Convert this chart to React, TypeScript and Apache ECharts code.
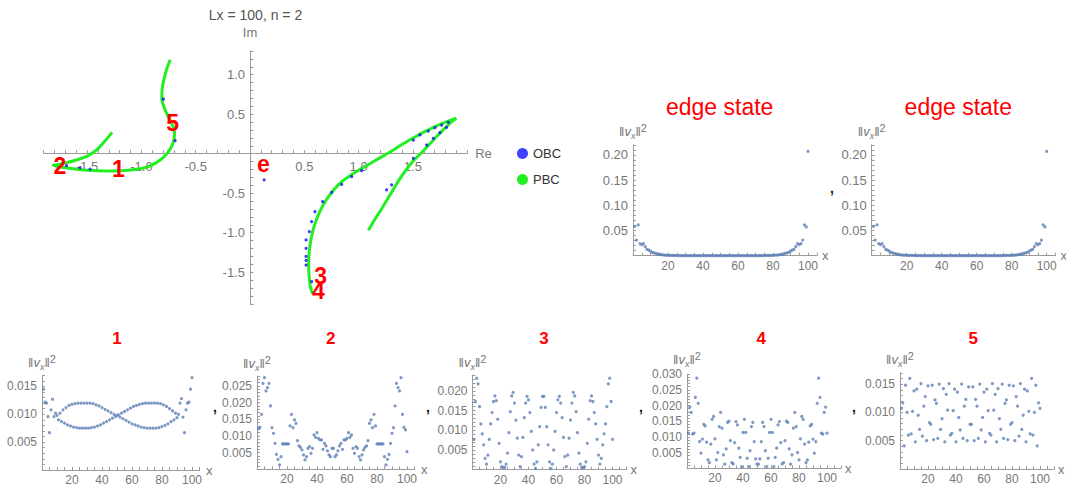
import React, { useEffect, useRef } from 'react';
import * as echarts from 'echarts';

// ---------- texts ----------
const mainTitle = 'Lx = 100, n = 2';
const edgeTitle = 'edge state';
const stateTitles = ['1', '2', '3', '4', '5'];
const legendNames = ['OBC', 'PBC'];

// ---------- complex spectrum (Re, Im) ----------
const pbcLeftRe = [-1.27, -1.33, -1.41, -1.5, -1.6, -1.69, -1.76, -1.815, -1.76, -1.66, -1.55, -1.44, -1.32, -1.2, -1.1, -1.01, -0.93, -0.86, -0.8, -0.755, -0.72, -0.7, -0.695, -0.705, -0.73, -0.765, -0.795, -0.812, -0.81, -0.8, -0.785, -0.77, -0.752, -0.735];
const pbcLeftIm = [0.27, 0.17, 0.05, -0.03, -0.08, -0.115, -0.135, -0.145, -0.165, -0.185, -0.203, -0.213, -0.218, -0.215, -0.205, -0.19, -0.16, -0.11, -0.05, 0.02, 0.1, 0.18, 0.26, 0.33, 0.41, 0.5, 0.6, 0.7, 0.8, 0.9, 0.98, 1.06, 1.13, 1.19];
const pbcRightRe = [1.09, 1.15, 1.22, 1.29, 1.36, 1.44, 1.51, 1.57, 1.64, 1.72, 1.8, 1.86, 1.9, 1.83, 1.73, 1.61, 1.49, 1.39, 1.3, 1.2, 1.1, 1.0, 0.92, 0.84, 0.77, 0.7, 0.64, 0.595, 0.563, 0.545, 0.54, 0.545, 0.555, 0.575];
const pbcRightIm = [-0.97, -0.83, -0.68, -0.52, -0.36, -0.2, -0.08, 0.0, 0.1, 0.22, 0.33, 0.41, 0.45, 0.415, 0.36, 0.28, 0.19, 0.11, 0.03, -0.05, -0.13, -0.21, -0.28, -0.36, -0.46, -0.59, -0.74, -0.9, -1.07, -1.25, -1.42, -1.56, -1.68, -1.77];
const obcRe = [-1.69, -1.565, -1.473, -0.798, -0.69, 0.13, 0.516, 0.516, 0.516, 0.516, 0.516, 0.546, 0.567, 0.598, 0.669, 0.752, 0.844, 0.936, 1.028, 1.504, 1.565, 1.642, 1.703, 1.765, 1.826, 1.258, 1.304, 1.504, 1.627, 1.688, 1.749, 1.81, 0.568];
const obcIm = [-0.152, -0.177, -0.194, 0.69, 0.165, -0.33, -1.092, -1.198, -1.3, -1.35, -1.41, -0.987, -0.86, -0.734, -0.607, -0.489, -0.388, -0.291, -0.215, 0.173, 0.237, 0.287, 0.33, 0.363, 0.397, -0.459, -0.395, -0.058, 0.11, 0.194, 0.266, 0.333, -1.62];
const markNames = ['2', '1', '5', 'e', '3', '4'];
const markRe = [-1.75, -1.213, -0.712, 0.123, 0.651, 0.629];
const markIm = [-0.152, -0.194, 0.385, -0.134, -1.548, -1.734];

// ---------- |v_x|^2 profiles, x = 1..100 ----------
const edgeState = [
  0.058, 0.031, 0.061, 0.024, 0.022, 0.024, 0.018, 0.0125, 0.011, 0.009,
  0.0066, 0.0055, 0.0046, 0.0035, 0.0026, 0.002, 0.0015, 0.0012, 0.001, 0.0008,
  0.0007, 0.0006, 0.0005, 0.0004, 0.0003, 0.0003, 0.0002, 0.0002, 0.0002, 0.0001,
  0.0001, 0.0001, 0.0001, 0.0001, 0.0001, 0.0001, 0.0001, 0.0001, 0.0001, 0.0001,
  0.0001, 0.0001, 0.0001, 0.0001, 0.0001, 0.0001, 0.0001, 0.0001, 0.0001, 0.0001,
  0.0001, 0.0001, 0.0001, 0.0001, 0.0001, 0.0001, 0.0001, 0.0001, 0.0001, 0.0001,
  0.0001, 0.0001, 0.0001, 0.0001, 0.0001, 0.0001, 0.0001, 0.0001, 0.0001, 0.0001,
  0.0002, 0.0002, 0.0002, 0.0003, 0.0003, 0.0004, 0.0005, 0.0006, 0.0007, 0.0008,
  0.001, 0.0012, 0.0015, 0.002, 0.0026, 0.0035, 0.0046, 0.0055, 0.0066, 0.009,
  0.011, 0.0125, 0.018, 0.024, 0.022, 0.024, 0.031, 0.061, 0.057, 0.207,
];
const state1 = [
  0.0145, 0.0122, 0.012, 0.0096, 0.0067, 0.0108, 0.0127, 0.0096, 0.0102, 0.0098,
  0.009, 0.0102, 0.0087, 0.0108, 0.0084, 0.0112, 0.0081, 0.0116, 0.0079, 0.0118,
  0.0077, 0.0119, 0.0076, 0.012, 0.0075, 0.012, 0.0075, 0.012, 0.0075, 0.012,
  0.0075, 0.012, 0.0076, 0.0119, 0.0077, 0.0117, 0.0079, 0.0115, 0.0081, 0.0112,
  0.0084, 0.0109, 0.0087, 0.0106, 0.009, 0.0103, 0.0093, 0.01, 0.0096, 0.0098,
  0.0099, 0.0095, 0.0102, 0.0092, 0.0105, 0.0089, 0.0108, 0.0086, 0.0111, 0.0083,
  0.0114, 0.0081, 0.0116, 0.0079, 0.0118, 0.0077, 0.0119, 0.0076, 0.012, 0.0075,
  0.012, 0.0075, 0.012, 0.0075, 0.012, 0.0075, 0.012, 0.0076, 0.0119, 0.0078,
  0.0117, 0.008, 0.0114, 0.0083, 0.011, 0.0087, 0.0106, 0.009, 0.0102, 0.0094,
  0.01, 0.012, 0.0128, 0.0095, 0.0067, 0.0108, 0.012, 0.0122, 0.0145, 0.0166,
];
const state2 = [
  0.0122, 0.0126, 0.0165, 0.0258, 0.0275, 0.0235, 0.0245, 0.0258, 0.019, 0.0125,
  0.0108, 0.0078, 0.0045, 0.003, 0.0013, 0.0038, 0.0076, 0.0076, 0.0076, 0.0076,
  0.0076, 0.013, 0.0165, 0.0125, 0.0148, 0.0138, 0.0086, 0.007, 0.0066, 0.0058,
  0.0043, 0.0028, 0.0038, 0.0063, 0.0068, 0.0048, 0.0063, 0.0103, 0.0096, 0.011,
  0.0093, 0.0088, 0.0088, 0.006, 0.0078, 0.007, 0.0055, 0.0043, 0.0038, 0.0063,
  0.0063, 0.0038, 0.0043, 0.0055, 0.007, 0.0078, 0.006, 0.0088, 0.0088, 0.0093,
  0.011, 0.0096, 0.0103, 0.0063, 0.0048, 0.0068, 0.0063, 0.0038, 0.0028, 0.0043,
  0.0058, 0.0066, 0.007, 0.0086, 0.0138, 0.0148, 0.0125, 0.0165, 0.013, 0.0076,
  0.0076, 0.0076, 0.0076, 0.0076, 0.0038, 0.0013, 0.003, 0.0045, 0.0078, 0.0108,
  0.0125, 0.019, 0.0258, 0.0245, 0.0235, 0.0275, 0.0165, 0.0126, 0.0118, 0.0053,
];
const state3 = [
  0.0077, 0.0173, 0.0232, 0.0218, 0.016, 0.0116, 0.0091, 0.0063, 0.0029, 0.0014,
  0.0037, 0.0077, 0.0116, 0.0145, 0.0173, 0.0187, 0.0175, 0.0128, 0.0067, 0.002,
  0.0008, 0.0004, 0.0006, 0.0014, 0.0042, 0.0094, 0.0147, 0.0187, 0.0196, 0.0169,
  0.0126, 0.008, 0.0037, 0.0008, 0.0033, 0.0082, 0.0132, 0.0169, 0.0186, 0.0177,
  0.0145, 0.0097, 0.005, 0.0014, 0.0003, 0.002, 0.0063, 0.0109, 0.0158, 0.0186,
  0.0186, 0.0158, 0.0109, 0.0063, 0.002, 0.0003, 0.0014, 0.005, 0.0097, 0.0145,
  0.0177, 0.0186, 0.0169, 0.0132, 0.0082, 0.0033, 0.0008, 0.0037, 0.008, 0.0126,
  0.0169, 0.0196, 0.0187, 0.0147, 0.0094, 0.0042, 0.0014, 0.0006, 0.0004, 0.0008,
  0.002, 0.0067, 0.0128, 0.0175, 0.0187, 0.0173, 0.0145, 0.0116, 0.0077, 0.0037,
  0.0014, 0.0029, 0.0063, 0.0091, 0.0116, 0.016, 0.0218, 0.0232, 0.0173, 0.0077,
];
const state4 = [
  0.0112, 0.0195, 0.0178, 0.0109, 0.0112, 0.0226, 0.0287, 0.0207, 0.0085, 0.0048,
  0.0093, 0.014, 0.0135, 0.0083, 0.0027, 0.0018, 0.0077, 0.0156, 0.0165, 0.0094,
  0.0027, 0.005, 0.0133, 0.0178, 0.0128, 0.0043, 0.0013, 0.0062, 0.0146, 0.015,
  0.0088, 0.0018, 0.0014, 0.0082, 0.0149, 0.0138, 0.0064, 0.0035, 0.0005, 0.0114,
  0.0156, 0.0114, 0.0032, 0.0005, 0.0056, 0.0133, 0.0146, 0.0085, 0.003, 0.0013,
  0.0013, 0.003, 0.0085, 0.0146, 0.0133, 0.0056, 0.0005, 0.0032, 0.0114, 0.0156,
  0.0114, 0.0005, 0.0035, 0.0064, 0.0138, 0.0149, 0.0082, 0.0014, 0.0018, 0.0088,
  0.015, 0.0146, 0.0062, 0.0013, 0.0043, 0.0128, 0.0178, 0.0133, 0.005, 0.0027,
  0.0094, 0.0165, 0.0156, 0.0077, 0.0018, 0.0027, 0.0083, 0.0135, 0.014, 0.0093,
  0.0048, 0.0085, 0.0207, 0.0287, 0.0226, 0.0112, 0.0109, 0.0178, 0.0195, 0.0112,
];
const state5 = [
  0.0107, 0.0117, 0.0041, 0.0148, 0.01, 0.006, 0.016, 0.0062, 0.0102, 0.0138,
  0.0048, 0.0141, 0.0095, 0.007, 0.0151, 0.0058, 0.0111, 0.0128, 0.005, 0.0147,
  0.0082, 0.0079, 0.0148, 0.0052, 0.0122, 0.0116, 0.0054, 0.015, 0.007, 0.0089,
  0.0142, 0.0048, 0.0132, 0.0104, 0.0151, 0.006, 0.0063, 0.0103, 0.0141, 0.0048,
  0.0136, 0.0091, 0.0069, 0.015, 0.0054, 0.0111, 0.0123, 0.005, 0.0145, 0.0079,
  0.0079, 0.0145, 0.005, 0.0123, 0.0111, 0.0054, 0.015, 0.0069, 0.0091, 0.0136,
  0.0048, 0.0141, 0.0103, 0.0063, 0.006, 0.0151, 0.0104, 0.0132, 0.0048, 0.0142,
  0.0089, 0.007, 0.015, 0.0054, 0.0116, 0.0122, 0.0052, 0.0148, 0.0079, 0.0082,
  0.0147, 0.005, 0.0128, 0.0111, 0.0058, 0.0151, 0.007, 0.0095, 0.0141, 0.0048,
  0.0138, 0.0102, 0.0062, 0.016, 0.006, 0.01, 0.0148, 0.0041, 0.0117, 0.0107,
];

// ---------- styling ----------
const FONT = 'Arial, "Liberation Sans", sans-serif';
const AXIS = '#9c9c9c';
const LABEL = '#777777';
const DOT = '#5E81B5';
const OBC_COLOR = '#1010ff';
const PBC_COLOR = '#22ee22';
const RED = '#ff0000';

const isMultiple = (v: number, step: number) => {
  const k = v / step;
  return Math.abs(k - Math.round(k)) < 1e-6;
};

const pairs = (xs: number[], ys: number[]) => xs.map((x, i) => [x, ys[i]]);
const profile = (vals: number[]) => vals.map((v, i) => [i + 1, v]);

const yName = '{n|‖}{v|v}{s|x}{n|‖}{p|2}';
const yNameStyle = {
  rich: {
    n: { fontSize: 13, color: LABEL, lineHeight: 18, fontFamily: FONT },
    v: { fontSize: 13, color: LABEL, lineHeight: 18, fontStyle: 'italic', fontFamily: FONT },
    s: { fontSize: 9, color: LABEL, lineHeight: 18, fontStyle: 'italic', verticalAlign: 'bottom', fontFamily: FONT },
    p: { fontSize: 11, color: LABEL, lineHeight: 18, verticalAlign: 'top', fontFamily: FONT },
  },
};

function smallX(gridIndex: number, max: number) {
  return {
    type: 'value', gridIndex, min: 0, max, interval: 5,
    axisLine: { onZero: false, lineStyle: { color: AXIS } },
    axisTick: { inside: true, length: 3, lineStyle: { color: AXIS } },
    axisLabel: {
      color: LABEL, fontSize: 12, margin: 4, fontFamily: FONT,
      formatter: (v: number) => (v > 0 && isMultiple(v, 20) && v <= 100 ? String(Math.round(v)) : ''),
    },
    splitLine: { show: false },
    name: 'x', nameLocation: 'end', nameGap: 4,
    nameTextStyle: { color: LABEL, fontSize: 13, fontFamily: FONT },
  };
}

function smallY(gridIndex: number, max: number, step: number, major: number, digits: number, fontSize: number) {
  return {
    type: 'value', gridIndex, min: 0, max, interval: step,
    axisLine: { onZero: false, lineStyle: { color: AXIS } },
    axisTick: { inside: true, length: 3, lineStyle: { color: AXIS } },
    axisLabel: {
      color: LABEL, fontSize, margin: 5, fontFamily: FONT,
      formatter: (v: number) => (v > 1e-9 && isMultiple(v, major) ? v.toFixed(digits) : ''),
    },
    splitLine: { show: false },
    name: yName, nameLocation: 'end', nameGap: 4,
    nameTextStyle: yNameStyle,
  };
}

// main plot frame
const MAIN = { left: 43.7, top: 51, width: 423.5, height: 252.8 };
const RE_MIN = -1.9, RE_MAX = 2.0, IM_MIN = -1.9, IM_MAX = 1.3;

function buildOption() {
  const grids = [
    MAIN,
    { left: 633, top: 144.8, width: 183.75, height: 110.9 },
    { left: 871.7, top: 144.8, width: 183.75, height: 110.9 },
    { left: 42, top: 375.3, width: 157.5, height: 94.7 },
    { left: 257, top: 376, width: 157.5, height: 93.3 },
    { left: 472.5, top: 375.1, width: 154, height: 94.6 },
    { left: 687, top: 374.1, width: 154, height: 94.2 },
    { left: 900, top: 372.8, width: 154, height: 96.2 },
  ].map((g) => ({ ...g, containLabel: false, outerBoundsMode: 'none' }));

  // distance from the grid's bottom / left edge to the zero lines
  const zeroFromBottom = (-IM_MIN / (IM_MAX - IM_MIN)) * MAIN.height;
  const zeroFromLeft = (-RE_MIN / (RE_MAX - RE_MIN)) * MAIN.width;

  const mainLabel = (lo: number, hi: number) => (v: number) =>
    isMultiple(v, 0.5) && Math.abs(v) > 1e-6 && v >= lo - 1e-6 && v <= hi + 1e-6 ? v.toFixed(1) : '';

  const xAxis: any[] = [
    {
      type: 'value', gridIndex: 0, min: RE_MIN, max: RE_MAX, interval: 0.1,
      position: 'bottom', offset: -zeroFromBottom,
      axisLine: { onZero: false, lineStyle: { color: AXIS } },
      axisTick: { inside: true, length: 3.5, lineStyle: { color: AXIS } },
      axisLabel: { color: LABEL, fontSize: 13, margin: 6, fontFamily: FONT, formatter: mainLabel(-1.5, 1.5) },
      splitLine: { show: false },
      name: 'Re', nameLocation: 'end', nameGap: 8,
      nameTextStyle: { color: LABEL, fontSize: 13, fontFamily: FONT },
    },
    smallX(1, 105),
    smallX(2, 105),
    smallX(3, 105),
    smallX(4, 105),
    smallX(5, 110),
    smallX(6, 110),
    smallX(7, 110),
  ];
  const yAxis: any[] = [
    {
      type: 'value', gridIndex: 0, min: IM_MIN, max: IM_MAX, interval: 0.1,
      position: 'left', offset: -zeroFromLeft,
      axisLine: { onZero: false, lineStyle: { color: AXIS } },
      axisTick: { inside: true, length: 3.5, lineStyle: { color: AXIS } },
      axisLabel: { color: LABEL, fontSize: 13, margin: 5, fontFamily: FONT, formatter: mainLabel(-1.5, 1.0) },
      splitLine: { show: false },
      name: 'Im', nameLocation: 'end', nameGap: 12,
      nameTextStyle: { color: LABEL, fontSize: 13, fontFamily: FONT },
    },
    smallY(1, 0.22, 0.01, 0.05, 2, 13),
    smallY(2, 0.22, 0.01, 0.05, 2, 13),
    smallY(3, 0.017, 0.001, 0.005, 3, 12),
    smallY(4, 0.028, 0.001, 0.005, 3, 12),
    smallY(5, 0.024, 0.001, 0.005, 3, 12),
    smallY(6, 0.03, 0.001, 0.005, 3, 12),
    smallY(7, 0.017, 0.001, 0.005, 3, 12),
  ];

  const profiles = [edgeState, edgeState, state1, state2, state3, state4, state5];
  const profileSeries = profiles.map((vals, i) => ({
    type: 'scatter', name: 'profile' + (i + 1), xAxisIndex: i + 1, yAxisIndex: i + 1,
    data: profile(vals), symbolSize: 3.2, itemStyle: { color: DOT }, silent: true,
  }));

  const pbcLine = (re: number[], im: number[]) => ({
    type: 'line', name: 'PBC', xAxisIndex: 0, yAxisIndex: 0,
    data: pairs(re, im), smooth: 0.25, showSymbol: false, symbol: 'none',
    lineStyle: { color: PBC_COLOR, width: 3 }, itemStyle: { color: PBC_COLOR }, z: 2, silent: true,
  });

  const series: any[] = [
    pbcLine(pbcLeftRe, pbcLeftIm),
    pbcLine(pbcRightRe, pbcRightIm),
    {
      type: 'scatter', name: 'OBC', xAxisIndex: 0, yAxisIndex: 0,
      data: pairs(obcRe, obcIm), symbolSize: 3.2, itemStyle: { color: OBC_COLOR }, z: 3, silent: true,
    },
    {
      type: 'scatter', name: 'marks', xAxisIndex: 0, yAxisIndex: 0,
      data: markNames.map((n, i) => ({ name: n, value: [markRe[i], markIm[i]] })),
      symbolSize: 2, itemStyle: { color: 'rgba(0,0,0,0)' }, z: 5, silent: true,
      label: {
        show: true, position: 'inside', formatter: '{b}', color: RED, opacity: 1,
        textBorderWidth: 0, textShadowBlur: 0,
        fontSize: 23, fontWeight: 'bold', fontFamily: FONT,
      },
    },
    ...profileSeries,
  ];

  const text = (t: string, x: number, y: number, font: string, fill: string) => ({
    type: 'text', x, y, silent: true,
    style: {
      text: t, fill, font, textAlign: 'center', textVerticalAlign: 'middle',
      align: 'center', verticalAlign: 'middle',
    },
  });

  const titleX = [117, 330.7, 544, 761.3, 973.3];
  const commaX = [215, 428, 641, 854, 832];
  const commaY = [407, 407, 407, 407, 188];

  const graphic: any[] = [
    text(mainTitle, 255.5, 15, `14px ${FONT}`, '#555555'),
    text(edgeTitle, 719.7, 107, `23px ${FONT}`, RED),
    text(edgeTitle, 958.3, 107, `23px ${FONT}`, RED),
    ...stateTitles.map((t, i) => text(t, titleX[i], 338, `bold 17px ${FONT}`, RED)),
    ...commaX.map((x, i) => text(',', x, commaY[i], `bold 14px ${FONT}`, '#111111')),
  ];

  return {
    animation: false,
    backgroundColor: '#ffffff',
    textStyle: { fontFamily: FONT },
    grid: grids,
    xAxis,
    yAxis,
    legend: {
      show: true, orient: 'vertical', left: 512, top: 142, itemGap: 13,
      itemWidth: 11, itemHeight: 11, selectedMode: false,
      textStyle: { color: '#333333', fontSize: 13, fontFamily: FONT },
      data: [
        { name: legendNames[0], icon: 'circle', itemStyle: { color: OBC_COLOR } },
        { name: legendNames[1], icon: 'circle', itemStyle: { color: PBC_COLOR } },
      ],
    },
    series,
    graphic,
  };
}

export default function App() {
  const ref = useRef<HTMLDivElement>(null);
  useEffect(() => {
    document.body.style.margin = '0';
    const chart = echarts.init(ref.current!, null, { renderer: 'svg' });
    chart.setOption(buildOption() as any);
    return () => chart.dispose();
  }, []);
  return <div ref={ref} style={{ width: 1066, height: 485 }} />;
}
